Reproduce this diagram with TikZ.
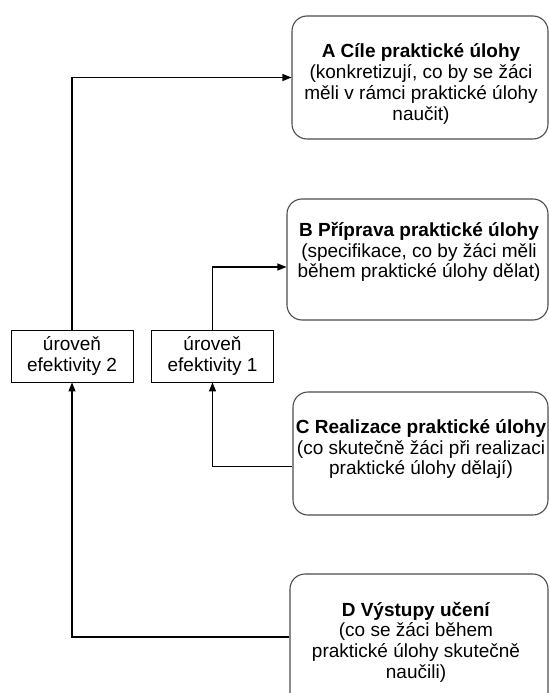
\documentclass[tikz,border=0pt]{standalone}
\usepackage{fontspec}
\setmainfont{Liberation Sans}
\usetikzlibrary{arrows.meta,positioning}
\begin{document}
\begin{tikzpicture}[x=1pt,y=1pt,
  roundbox/.style={draw=black!70,line width=1.1pt,rounded corners=15pt,minimum width=#1},
  levelbox/.style={draw=black,line width=0.9pt,minimum width=122pt,minimum height=52pt,inner sep=0pt},
  txt/.style={align=center,font=\fontsize{19}{20.7}\selectfont,inner sep=0pt},
  conn/.style={line width=1.2pt,-{Triangle[length=9pt,width=7pt]}}]
\useasboundingbox (0,0) rectangle (549,-693);
% boxes
\node[roundbox=256pt,minimum height=123pt] (A) at (420,-77.5) {};
\node[roundbox=261pt,minimum height=121pt] (B) at (417.5,-259.5) {};
\node[roundbox=255pt,minimum height=123pt] (C) at (420.5,-453.5) {};
\node[roundbox=258pt,minimum height=146pt] (D) at (419,-647) {};
% texts
\node[txt] (At) at (421,-84) {\textbf{A Cíle praktické úlohy}\\(konkretizují, co by se žáci\\měli v rámci praktické úlohy\\naučit)};
\node[txt] (Bt) at (419,-252) {\textbf{B Příprava praktické úlohy}\\(specifikace, co by žáci měli\\během praktické úlohy dělat)};
\node[txt] (Ct) at (421,-449) {\textbf{C Realizace praktické úlohy}\\(co skutečně žáci při realizaci\\praktické úlohy dělají)};
\node[txt] (Dt) at (416,-642) {\textbf{D Výstupy učení}\\(co se žáci během\\praktické úlohy skutečně\\naučili)};
% level boxes
\node[levelbox,txt] (L2) at (72,-356) {úroveň\\efektivity 2};
\node[levelbox,txt] (L1) at (212.5,-356) {úroveň\\efektivity 1};
% connector anchors
\coordinate (bIn) at ([yshift=-7.5pt]B.west);
\coordinate (cOut) at ([yshift=-13pt]C.west);
\coordinate (dOut) at ([yshift=10pt]D.west);
% connectors
\draw[conn] (L2.north) |- (A.west);
\draw[conn] (L1.north) |- (bIn);
\draw[conn] (cOut) -| (L1.south);
\draw[conn] (dOut) -| (L2.south);
\end{tikzpicture}
\end{document}
